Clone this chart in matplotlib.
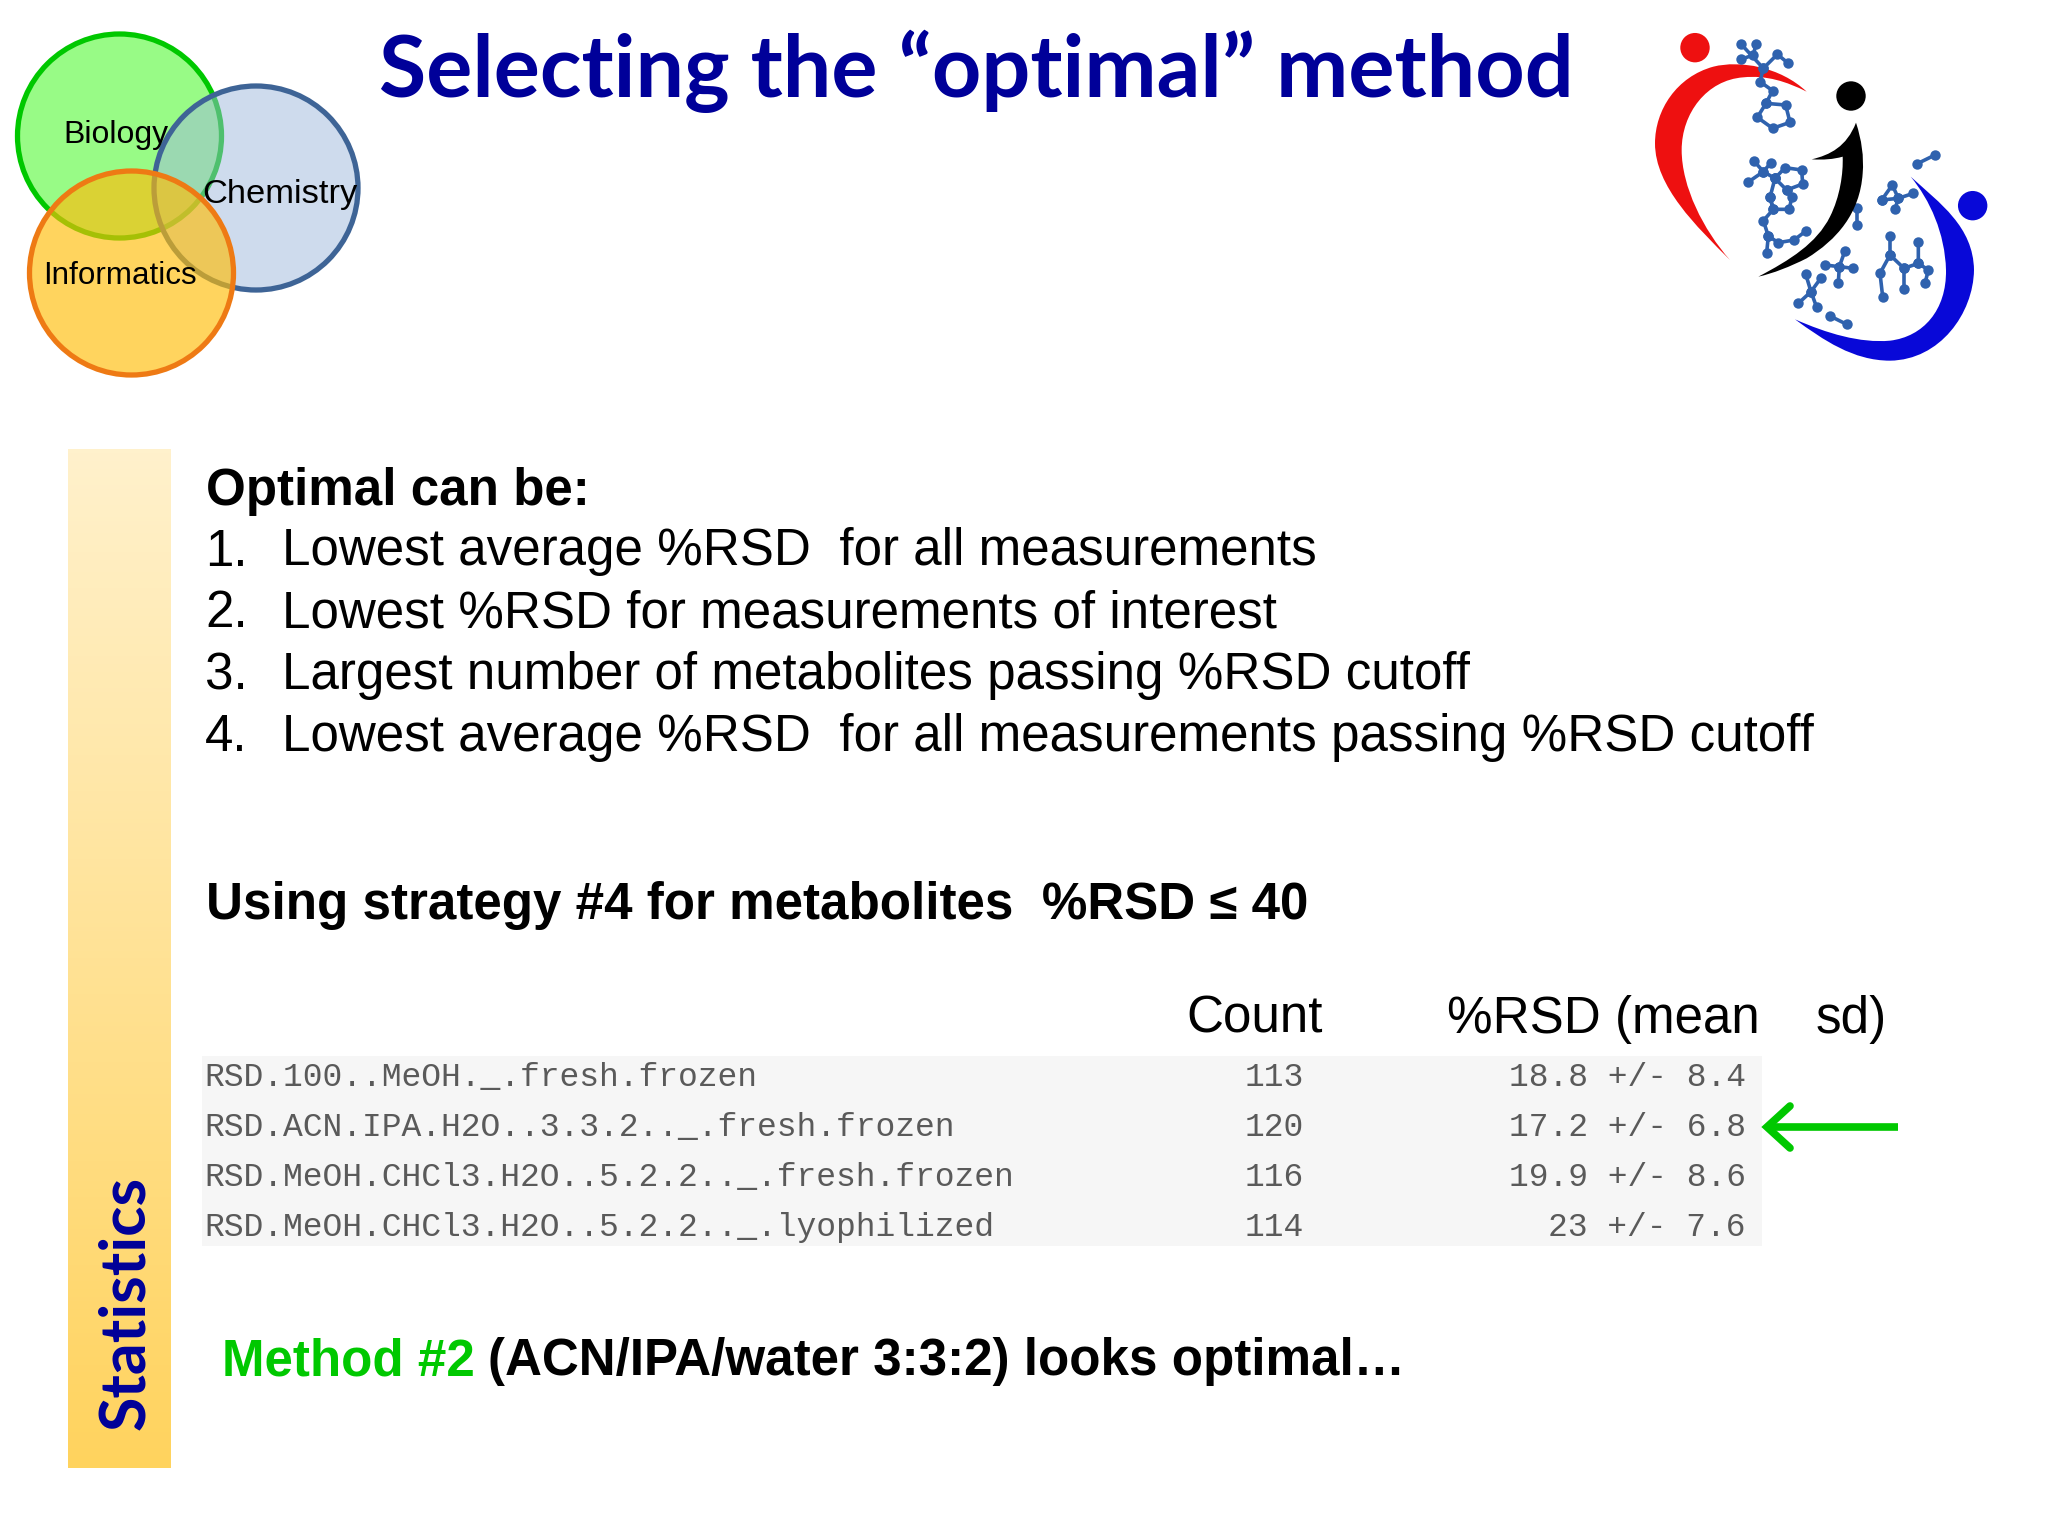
import numpy as np
import matplotlib
matplotlib.use("Agg")
import matplotlib.pyplot as plt
from matplotlib.patches import Circle, PathPatch, Rectangle
from matplotlib.path import Path

# ---- content ----
title = "Selecting the “optimal” method"
sidebar = "Statistics"
venn_labels = ["Biology", "Chemistry", "Informatics"]
intro = "Optimal can be:"
numbers = ["1.", "2.", "3.", "4."]
options = ["Lowest average %RSD  for all measurements",
           "Lowest %RSD for measurements of interest",
           "Largest number of metabolites passing %RSD cutoff",
           "Lowest average %RSD  for all measurements passing %RSD cutoff"]
strategy = "Using strategy #4 for metabolites  %RSD ≤ 40"
methods = ["RSD.100..MeOH._.fresh.frozen",
           "RSD.ACN.IPA.H2O..3.3.2.._.fresh.frozen",
           "RSD.MeOH.CHCl3.H2O..5.2.2.._.fresh.frozen",
           "RSD.MeOH.CHCl3.H2O..5.2.2.._.lyophilized"]
counts = [113, 120, 116, 114]
rsd_mean = ["18.8", "17.2", "19.9", "23"]
rsd_sd = ["8.4", "6.8", "8.6", "7.6"]
verdict_a = "Method #2"
verdict_b = "(ACN/IPA/water 3:3:2) looks optimal…"

NAVY = "#000099"
GREEN = "#00C800"
SANS = "Liberation Sans"

fig = plt.figure(figsize=(20.48, 15.36), dpi=100, facecolor="white")
ax = fig.add_axes([0, 0, 1, 1])
ax.set_axis_off()


def txt(x, y, s, size, **kw):
    kw.setdefault("family", SANS)
    kw.setdefault("color", "black")
    kw.setdefault("va", "baseline")
    return ax.text(x, y, s, fontsize=size, **kw)


# title
txt(379, 97, title, 62.1, family="Lato", weight="bold", color=NAVY)

# venn
for (cx, cy), face, fa, edge in [((119.5, 136), "#98FB86", 1.0, "#00C800"),
                                 ((256, 188), "#9FB9DD", 0.5, "#3E6496"),
                                 ((131.5, 273), "#FFBD08", 0.65, "#EE7A14")]:
    ax.add_patch(Circle((cx, cy), 102, facecolor=face, alpha=fa, edgecolor="none", zorder=2))
    ax.add_patch(Circle((cx, cy), 102, facecolor="none", edgecolor=edge, lw=3.8, zorder=2))
for x, y, s, fs in zip([63, 202, 43], [143, 203, 284], venn_labels, [23, 24.8, 22.6]):
    txt(x, y, s, fs, zorder=5)


# logo (drawn in a local 3x coordinate frame)
def lx(p):
    p = np.asarray(p, float)
    return np.column_stack([1640 + p[:, 0] / 3, p[:, 1] / 3])


def blob(pts, color, z=3):
    codes = [Path.MOVETO] + [Path.CURVE4] * (len(pts) - 1)
    ax.add_patch(PathPatch(Path(lx(pts), codes), facecolor=color, edgecolor="none", zorder=z))


blob([(500, 275), (420, 200), (300, 180), (220, 200), (110, 230), (45, 330), (45, 430),
      (45, 560), (170, 680), (270, 780), (190, 690), (125, 560), (125, 450),
      (125, 340), (200, 240), (310, 232), (380, 225), (440, 245), (500, 275)], "#EE1010")
blob([(812, 530), (900, 610), (1000, 680), (1002, 810), (1000, 940), (900, 1080), (750, 1082),
      (640, 1082), (550, 1020), (465, 958), (560, 1000), (660, 1030), (750, 1022),
      (850, 1010), (920, 930), (918, 810), (915, 700), (870, 600), (812, 530)], "#0808D8")
for (cx, cy), c in [((165, 143), "#EE1010"), ((633, 288), "black"), ((998, 617), "#0808D8")]:
    ax.add_patch(Circle((1640 + cx / 3, cy / 3), 14.7, facecolor=c, edgecolor="none", zorder=3))

chains = [
    [(303, 132), (370, 205), (360, 245), (398, 272), (378, 310), (352, 352), (398, 385), (450, 367), (437, 315), (378, 310)],
    [(348, 132), (340, 165), (303, 178)],
    [(370, 205), (412, 163), (445, 190)],
    [(343, 484), (370, 515), (393, 488)],
    [(325, 546), (370, 515), (405, 535), (435, 503), (485, 510), (488, 552), (440, 570), (405, 535)],
    [(405, 535), (390, 592), (400, 628), (448, 628), (455, 592), (440, 570)],
    [(390, 592), (400, 628), (370, 662), (385, 708), (415, 728), (462, 720), (498, 693)],
    [(385, 708), (380, 758)],
    [(830, 492), (885, 465)],
    [(652, 625), (652, 675)],
    [(725, 600), (757, 555), (775, 595), (820, 580)],
    [(725, 600), (775, 595), (765, 628)],
    [(615, 752), (598, 800), (595, 848)],
    [(555, 795), (598, 800), (640, 805)],
    [(497, 822), (513, 875), (530, 922)],
    [(542, 835), (513, 875), (475, 910)],
    [(570, 948), (620, 973)],
    [(750, 708), (750, 765), (720, 820), (728, 890)],
    [(750, 765), (792, 805), (792, 868)],
    [(792, 805), (835, 790), (835, 727)],
    [(835, 790), (865, 810), (855, 850)],
]
for ch in chains:
    q = lx(ch)
    ax.plot(q[:, 0], q[:, 1], color="#2F62AE", lw=2.6, marker="o", ms=7.5, mec="none", zorder=4)

blob([(648, 368), (665, 420), (672, 470), (668, 520), (660, 640), (590, 720), (500, 775),
      (450, 800), (400, 820), (355, 830), (450, 780), (530, 730), (570, 650),
      (600, 590), (610, 520), (608, 470), (580, 478), (550, 480), (515, 478),
      (570, 465), (620, 440), (648, 368)], "black", z=5)

# sidebar
grad = np.linspace(0, 1, 256)[:, None, None] * (np.array([255, 211, 94]) - np.array([255, 241, 204])) + np.array([255, 241, 204])
ax.imshow(grad.astype(np.uint8), extent=(68, 171, 1468, 449), aspect="auto", zorder=1)
txt(126, 1303, sidebar, 45.3, family="Lato", weight="bold", color=NAVY, rotation=90,
    ha="center", va="center", rotation_mode="anchor")

# option list
LIST = 36.8
txt(205.5, 504.5, intro, LIST, weight="bold")
for i, (n, s) in enumerate(zip(numbers, options)):
    y = 565.5 + i * 61.8
    txt(205, y, n, LIST)
    txt(281.5, y, s, LIST)
txt(205.5, 919, strategy, LIST, weight="bold")

# table
txt(1186, 1032.5, "Count", LIST)
txt(1447, 1032.5, "%RSD (mean", LIST)
txt(1816, 1032.5, "sd)", LIST)
ax.add_patch(Rectangle((202, 1056), 1560, 190, facecolor="#F6F6F6", edgecolor="none", zorder=1))
MONO = 23.8
for i, (m, c, a, b) in enumerate(zip(methods, counts, rsd_mean, rsd_sd)):
    y = 1086.5 + i * 49.7
    kw = dict(family="Liberation Mono", color="#5A5A5A")
    txt(204, y, m, MONO, **kw)
    txt(1304, y, str(c), MONO, ha="right", **kw)
    txt(1746, y, f"{a} +/- {b}", MONO, ha="right", **kw)

# arrow
ax.plot([1898, 1768], [1127, 1127], color=GREEN, lw=5.5, solid_capstyle="butt", zorder=4)
ax.plot([1790, 1767, 1790], [1106, 1127, 1148], color=GREEN, lw=5.5,
        solid_capstyle="round", solid_joinstyle="miter", zorder=4)

# verdict
txt(222, 1375, verdict_a, LIST, weight="bold", color=GREEN)
txt(488.5, 1375, verdict_b, LIST, weight="bold")

ax.set_xlim(0, 2048)
ax.set_ylim(1536, 0)
fig.savefig("out.png", dpi=100, facecolor="white")
